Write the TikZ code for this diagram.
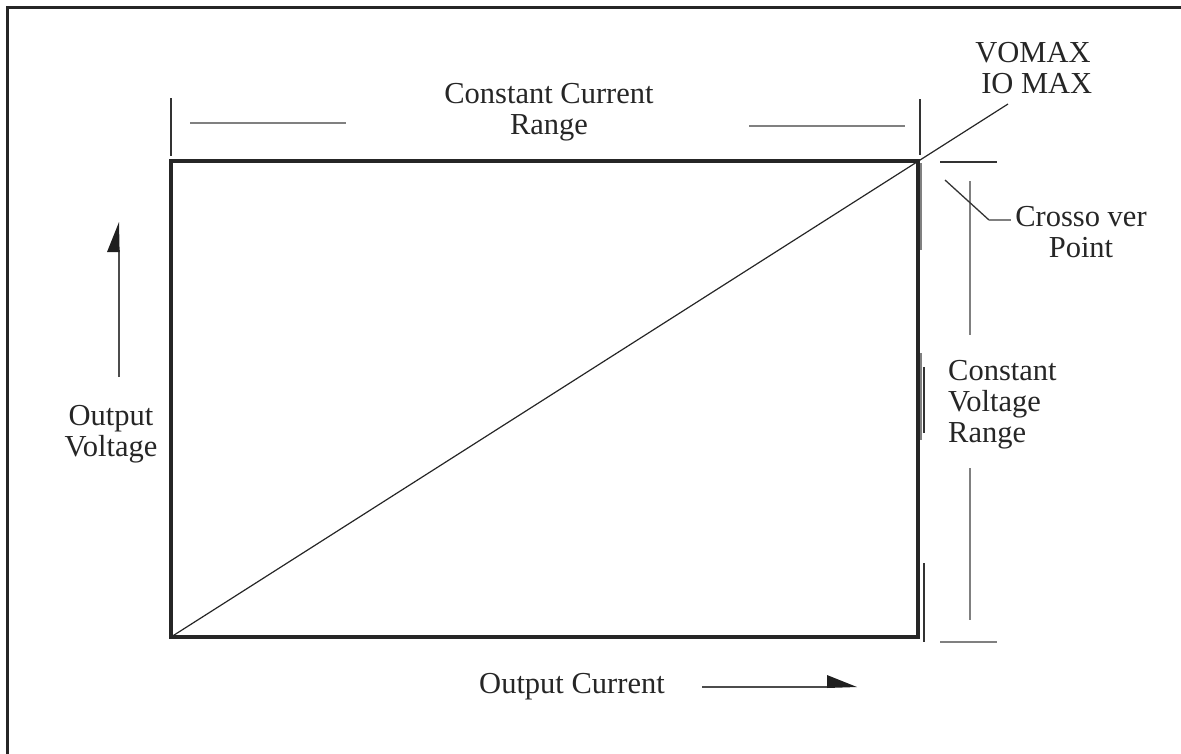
\documentclass[tikz,border=0pt]{standalone}
\usepackage{fontspec}
\setmainfont{Liberation Serif}
\begin{document}
\begin{tikzpicture}[x=1pt,y=-1pt,
  frameline/.style={line width=3pt,draw=black!85},
  boxline/.style={line width=3.4pt,draw=black!85},
  thinline/.style={line width=1.3pt,draw=black!80},
  greyline/.style={line width=1.6pt,draw=black!50},
  lbl/.style={inner sep=0pt,font=\fontsize{30.5}{31}\selectfont,text=black!85},
  headfill/.style={fill=black!88,draw=none}]
\useasboundingbox (0,0) rectangle (1181,753);
% outer frame (top and left edges only)
\coordinate (fTL) at (7,7);
\coordinate (fB) at (7,760);
\coordinate (fR) at (1190,7);
\draw[frameline] (fB) -- (fTL) -- (fR);
% operating region
\coordinate (o) at (171,637);
\coordinate (c) at (918,161);
\draw[boxline] (o) rectangle (c);
% load line through the crossover corner
\coordinate (lineEnd) at (1008,104);
\draw[line width=1.2pt,draw=black!85] (o) -- (lineEnd);
% constant current range markers
\coordinate (t1a) at (171,98);  \coordinate (t1b) at (171,156);
\coordinate (t2a) at (920,99);  \coordinate (t2b) at (920,155);
\draw[thinline] (t1a) -- (t1b);
\draw[thinline] (t2a) -- (t2b);
\coordinate (h1a) at (190,123); \coordinate (h1b) at (346,123);
\coordinate (h2a) at (749,126); \coordinate (h2b) at (905,126);
\draw[greyline] (h1a) -- (h1b);
\draw[greyline] (h2a) -- (h2b);
\node[lbl,align=center] (ccr) at (549,112) {Constant Current\\Range};
% maximum values
\node[lbl,align=center] (vmax) at (1033,68) {VOMAX\\\ IO MAX};
% constant voltage range markers
\coordinate (hv1a) at (940,162); \coordinate (hv1b) at (997,162);
\coordinate (hv2a) at (940,642); \coordinate (hv2b) at (997,642);
\draw[thinline] (hv1a) -- (hv1b);
\draw[greyline] (hv2a) -- (hv2b);
\coordinate (v1a) at (970,181); \coordinate (v1b) at (970,335);
\coordinate (v2a) at (970,468); \coordinate (v2b) at (970,620);
\draw[greyline] (v1a) -- (v1b);
\draw[greyline] (v2a) -- (v2b);
\node[lbl,align=left,anchor=west] (cvr) at (948,405) {Constant\\Voltage\\Range};
% traces along the right edge
\coordinate (e1a) at (921,163); \coordinate (e1b) at (921,250);
\coordinate (e2a) at (921,353); \coordinate (e2b) at (921,440);
\coordinate (e3a) at (924,367); \coordinate (e3b) at (924,433);
\coordinate (e4a) at (924,563); \coordinate (e4b) at (924,642);
\draw[greyline] (e1a) -- (e1b);
\draw[greyline] (e2a) -- (e2b);
\draw[thinline] (e3a) -- (e3b);
\draw[thinline] (e4a) -- (e4b);
% crossover point callout
\node[lbl,align=center] (cop) at (1081,232) {Crosso ver\\Point};
\coordinate (ld0) at (945,180);
\coordinate (ld1) at (989,220);
\coordinate (ld2) at (1011,220);
\draw[thinline] (ld0) -- (ld1);
\draw[greyline] (ld1) -- (ld2);
% output voltage axis
\node[lbl,align=center] (ov) at (111,434) {Output\\Voltage};
\coordinate (va) at (119,377);
\coordinate (vb) at (119,250);
\coordinate (vtip) at (119,222);
\coordinate (vbl) at (107,252);
\draw[line width=1.3pt,draw=black!70] (va) -- (vb);
\fill[headfill] (vtip) -- (vbl) -- (119.6,252) -- cycle;
% output current axis
\node[lbl] (oc) at (572,687) {Output Current};
\coordinate (ia) at (702,687);
\coordinate (ib) at (830,687);
\coordinate (itip) at (857,687);
\coordinate (itop) at (827,675);
\draw[line width=1.6pt,draw=black!70] (ia) -- (ib);
\fill[headfill] (itip) -- (itop) -- (827,688) -- cycle;
\end{tikzpicture}
\end{document}
